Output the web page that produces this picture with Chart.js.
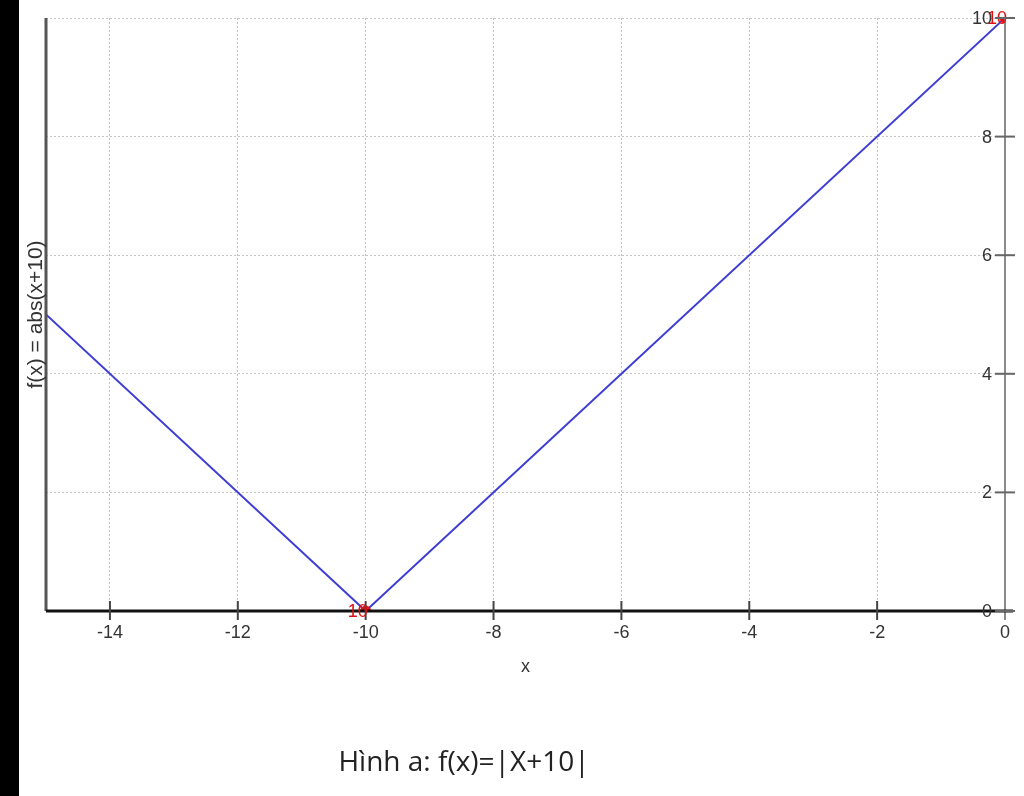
<!DOCTYPE html>
<html>
<head>
<meta charset="utf-8">
<script src="https://cdn.jsdelivr.net/npm/chart.js@4/dist/chart.umd.min.js"></script>
<style>
  html, body { margin: 0; padding: 0; background: #fff; }
  #wrap { position: relative; width: 1024px; height: 796px; overflow: hidden; }
  #strip { position: absolute; left: 0; top: 0; width: 19px; height: 796px; background: #000; }
  #chart { position: absolute; left: 0; top: 0; }
  #caption {
    position: absolute; left: 0; width: 928px; top: 741px; text-align: center;
    font-family: "Open Sans", Lato, sans-serif; font-size: 28px; color: #222;
  }
</style>
</head>
<body>
<div id="wrap">
  <canvas id="chart" width="1024" height="796"></canvas>
  <div id="strip"></div>
  <div id="caption">Hình a: f(x)=|X+10|</div>
</div>
<script>
  // f(x) = |x + 10| sampled at its corners
  const xValues = [-15, -10, 0];
  const yValues = [5, 0, 10];
  // highlighted points
  const markX = [-10, 0];
  const markY = [0, 10];
  const markLabels = ['10', '10'];
  // ticks
  const xTicks = [-14, -12, -10, -8, -6, -4, -2, 0];
  const yTicks = [0, 2, 4, 6, 8, 10];

  const font = '18px "Liberation Sans", Arial, sans-serif';

  const axesPlugin = {
    id: 'axes',
    afterDatasetsDraw(chart) {
      const { ctx, chartArea, scales } = chart;
      const xs = scales.x;
      const ys = scales.y;
      const x0 = xs.getPixelForValue(0);
      const y0 = ys.getPixelForValue(0);
      ctx.save();

      // left axis
      ctx.strokeStyle = '#555';
      ctx.lineWidth = 3;
      ctx.beginPath();
      ctx.moveTo(chartArea.left, chartArea.top);
      ctx.lineTo(chartArea.left, y0);
      ctx.stroke();

      // right (y) axis at x = 0
      ctx.strokeStyle = '#8a8a8a';
      ctx.lineWidth = 2;
      ctx.beginPath();
      ctx.moveTo(x0, chartArea.top);
      ctx.lineTo(x0, y0 + 9);
      ctx.stroke();

      // bottom axis
      ctx.strokeStyle = '#111';
      ctx.lineWidth = 3;
      ctx.beginPath();
      ctx.moveTo(chartArea.left, y0);
      ctx.lineTo(x0 + 8, y0);
      ctx.stroke();

      // x ticks + labels
      ctx.strokeStyle = '#444';
      ctx.lineWidth = 2;
      ctx.fillStyle = '#333';
      ctx.font = font;
      ctx.textAlign = 'center';
      ctx.textBaseline = 'middle';
      xTicks.forEach((v) => {
        const px = xs.getPixelForValue(v);
        if (v !== 0) {
          ctx.beginPath();
          ctx.moveTo(px, y0 - 10);
          ctx.lineTo(px, y0 + 9);
          ctx.stroke();
        }
        ctx.fillText(String(v), px, y0 + 22);
      });

      // red point labels (under the black tick labels)
      ctx.fillStyle = '#e01010';
      ctx.textAlign = 'right';
      markX.forEach((v, i) => {
        ctx.fillText(markLabels[i], xs.getPixelForValue(v) + 2, ys.getPixelForValue(markY[i]) + 1);
      });

      // y ticks + labels on the right axis
      ctx.strokeStyle = '#666';
      ctx.fillStyle = '#333';
      yTicks.forEach((v) => {
        const py = ys.getPixelForValue(v);
        ctx.beginPath();
        ctx.moveTo(x0 - 10, py);
        ctx.lineTo(x0 + 10, py);
        ctx.stroke();
        ctx.fillText(String(v), x0 - 13, py + 1);
      });

      // axis titles
      ctx.textAlign = 'center';
      ctx.fillText('x', (chartArea.left + chartArea.right) / 2, y0 + 56);
      ctx.font = '21px "Liberation Sans", Arial, sans-serif';
      ctx.translate(36, (chartArea.top + chartArea.bottom) / 2);
      ctx.rotate(-Math.PI / 2);
      ctx.fillText('f(x) = abs(x+10)', 0, 0);
      ctx.restore();
    }
  };

  const gridColor = (hidden) => (c) => (hidden.includes(c.tick.value) ? 'rgba(0,0,0,0)' : '#c4c4c4');

  new Chart(document.getElementById('chart'), {
    type: 'scatter',
    data: {
      datasets: [
        {
          data: xValues.map((x, i) => ({ x, y: yValues[i] })),
          showLine: true,
          borderColor: 'rgb(62, 62, 212)',
          borderWidth: 2,
          pointRadius: 0,
          order: 2
        },
        {
          data: markX.map((x, i) => ({ x, y: markY[i] })),
          backgroundColor: '#e81010',
          borderColor: '#e81010',
          pointRadius: 5,
          order: 1
        }
      ]
    },
    options: {
      responsive: false,
      animation: false,
      layout: { padding: { left: 46, right: 19, top: 18, bottom: 185 } },
      plugins: { legend: { display: false }, tooltip: { enabled: false } },
      scales: {
        x: {
          type: 'linear',
          min: -15,
          max: 0,
          afterBuildTicks: (s) => { s.ticks = [-15].concat(xTicks).map((value) => ({ value })); },
          ticks: { display: false },
          border: { display: false, dash: [2, 2] },
          grid: { color: gridColor([-15, 0]), lineWidth: 1, drawTicks: false }
        },
        y: {
          min: 0,
          max: 10,
          afterBuildTicks: (s) => { s.ticks = yTicks.map((value) => ({ value })); },
          ticks: { display: false },
          border: { display: false, dash: [2, 2] },
          grid: { color: gridColor([0]), lineWidth: 1, drawTicks: false }
        }
      }
    },
    plugins: [axesPlugin]
  });
</script>
</body>
</html>
